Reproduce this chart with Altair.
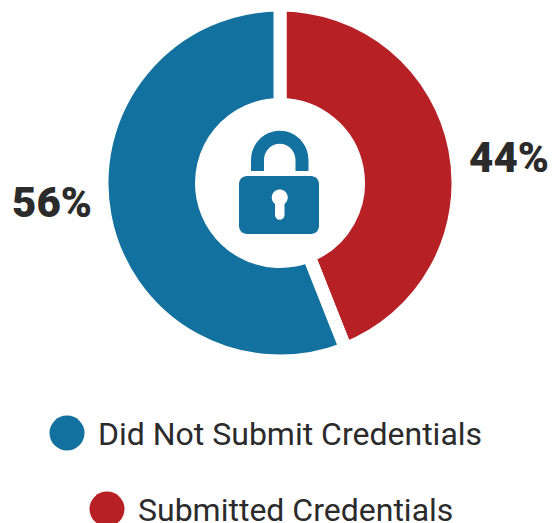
import altair as alt
import pandas as pd

# Share of respondents in each group, clockwise from twelve o'clock
categories = ["Submitted Credentials", "Did Not Submit Credentials"]
shares = [44, 56]
slice_order = [0, 1]
colours = ["#b72025", "#12719e"]
INK = "#2b2b2b"

W, H = 552, 523
CX, CY = 280, 183
GAP = 13

slices = pd.DataFrame({
    "category": categories,
    "share": shares,
    "slice_order": slice_order,
    "label": [f"{s}%" for s in shares],
})

colour_scale = alt.Scale(domain=categories, range=colours)

# White outlines open parallel gaps between the slices, so the radii allow for half a stroke
donut = (
    alt.Chart(slices)
    .mark_arc(
        outerRadius=171.5 + GAP / 2,
        innerRadius=85 - GAP / 2,
        stroke="white",
        strokeWidth=GAP,
    )
    .encode(
        x=alt.value(CX),
        y=alt.value(CY),
        theta=alt.Theta("share:Q", stack=True, scale=alt.Scale(domain=[0, 100])),
        color=alt.Color("category:N", scale=colour_scale, legend=None),
        order=alt.Order("slice_order:Q"),
    )
)


def percent_label(category, x, y):
    return (
        alt.Chart(slices[slices["category"] == category])
        .mark_text(
            font="Roboto", fontSize=42, fontWeight=900, color=INK,
            align="center", baseline="alphabetic",
        )
        .encode(x=alt.value(x), y=alt.value(y), text="label:N")
    )


def legend_row(category, dot_x, text_x, y):
    row = slices[slices["category"] == category]
    dot = (
        alt.Chart(row)
        .mark_point(shape="circle", filled=True, size=1225, opacity=1)
        .encode(
            x=alt.value(dot_x),
            y=alt.value(y),
            color=alt.Color("category:N", scale=colour_scale, legend=None),
        )
    )
    text = (
        alt.Chart(row)
        .mark_text(
            font="Roboto", fontSize=32, color=INK,
            align="left", baseline="alphabetic",
        )
        .encode(x=alt.value(text_x), y=alt.value(y + 12), text="category:N")
    )
    return dot + text


# Padlock icon; symbol paths are in pixels at size 4
BODY = "M-41 -7 A8 8 0 0 1 -33 -15 H31 A8 8 0 0 1 39 -7 V35 A8 8 0 0 1 31 43 H-33 A8 8 0 0 1 -41 35 Z"
SHACKLE = (
    "M-29 -20 V-31 A28.5 29 0 0 1 28.5 -31 V-20 H15.5 V-31 "
    "A15.5 16 0 0 0 -16 -31 V-20 Z"
)
KEYHOLE = "M-5 13 A8 8 0 1 1 4.5 13 V24 A4.7 4.7 0 0 1 -5 24 Z"


def icon(path, fill):
    return (
        alt.Chart(slices.head(1))
        .mark_point(shape=path, filled=True, size=4, opacity=1, color=fill, strokeWidth=0)
        .encode(x=alt.value(CX), y=alt.value(191))
    )


chart = (
    alt.layer(
        donut,
        icon(SHACKLE, "#12719e"),
        icon(BODY, "#12719e"),
        icon(KEYHOLE, "white"),
        percent_label("Did Not Submit Credentials", 52, 217),
        percent_label("Submitted Credentials", 509, 172),
        legend_row("Did Not Submit Credentials", 67, 98, 433),
        legend_row("Submitted Credentials", 107, 138, 509),
    )
    .properties(width=W, height=H, padding=0, background="white")
    .configure(autosize=alt.AutoSizeParams(type="none"))
    .configure_view(stroke=None)
)

chart.save("out.html", embed_options={"renderer": "svg", "actions": False})
